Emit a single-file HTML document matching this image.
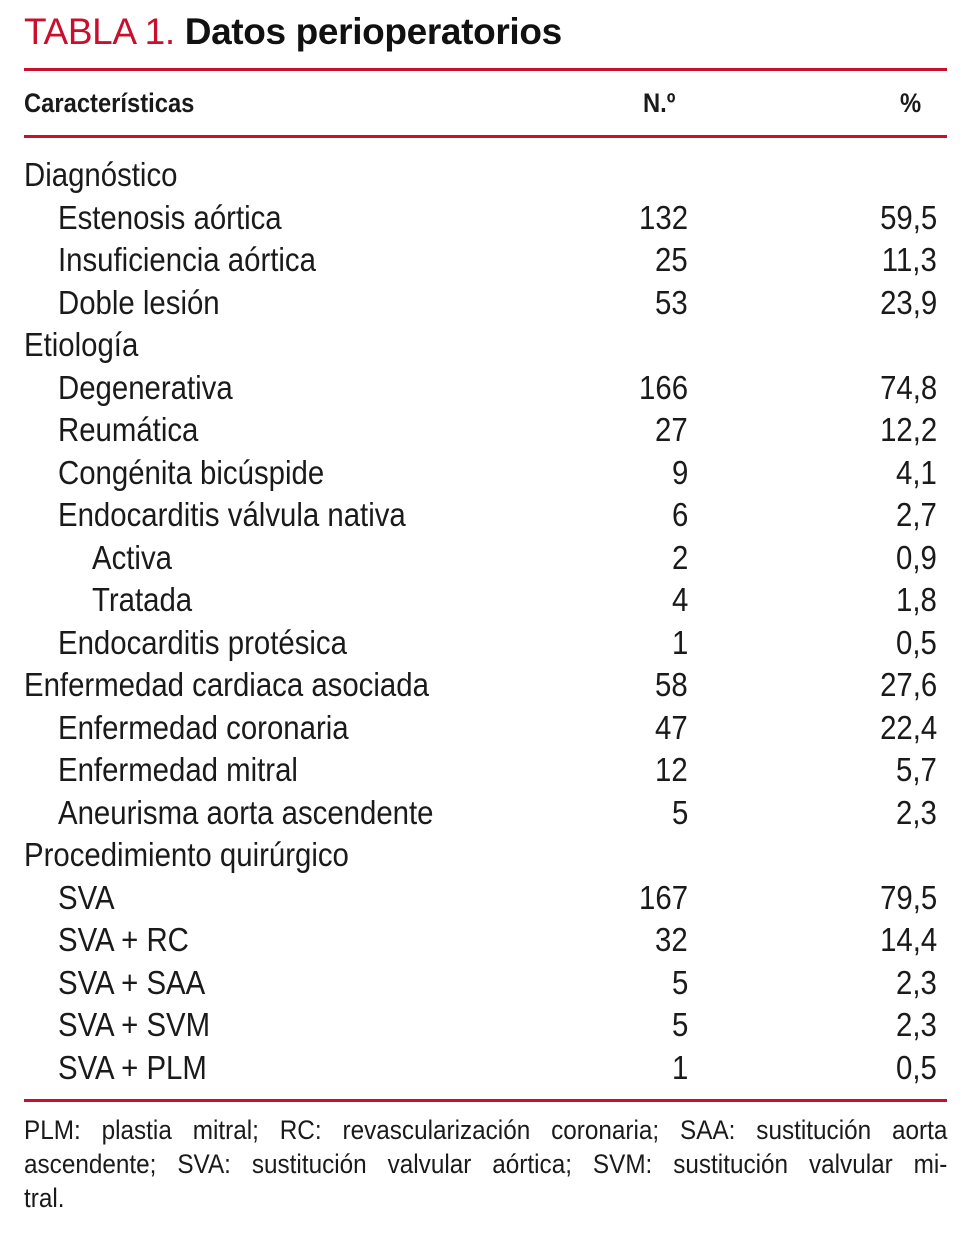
<!DOCTYPE html>
<html><head><meta charset="utf-8">
<style>
html,body{margin:0;padding:0;background:#fff;}
body{width:964px;height:1236px;position:relative;overflow:hidden;font-family:"Liberation Sans Narrow","Liberation Sans",sans-serif;color:#1a1a1a;}
.title{position:absolute;left:24px;top:11px;font-size:37px;font-family:"Liberation Sans",sans-serif;letter-spacing:-0.35px;}
.title .red{color:#c8102e;}
.title b{color:#111;}
.rule{position:absolute;left:24px;width:923px;height:3px;background:#c8102e;}
.hdr{position:absolute;top:88px;font-size:27px;font-weight:bold;transform:scaleX(0.88);transform-origin:left top;}
.row{position:absolute;left:0;width:964px;height:42px;font-size:33px;line-height:42px;}
.row span{position:absolute;top:0;white-space:nowrap;transform:scaleX(0.89);}
.row span.l{transform-origin:left center;}
.row span.n,.row span.p{transform-origin:right center;}
.n{right:276px;}
.p{right:27px;}
.foot{position:absolute;left:24px;top:1113px;width:1026px;font-size:27px;line-height:34px;transform:scaleX(0.9);transform-origin:left top;}
.foot div{white-space:nowrap;text-align:justify;text-align-last:justify;}
.foot div.last{text-align-last:left;}
</style></head><body>
<div class="title"><span class="red">TABLA 1.</span> <b>Datos perioperatorios</b></div>
<div class="rule" style="top:68px"></div>
<div class="hdr" style="left:24px">Características</div>
<div class="hdr" style="left:643px">N.º</div>
<div class="hdr" style="left:900px">%</div>
<div class="rule" style="top:135px"></div>
<div id="rows"></div>
<div class="rule" style="top:1099px"></div>
<div class="foot"><div>PLM: plastia mitral; RC: revascularización coronaria; SAA: sustitución aorta</div><div>ascendente; SVA: sustitución valvular aórtica; SVM: sustitución valvular mi-</div><div class="last">tral.</div></div>
<script>
const labels=["Diagnóstico","Estenosis aórtica","Insuficiencia aórtica","Doble lesión","Etiología","Degenerativa","Reumática","Congénita bicúspide","Endocarditis válvula nativa","Activa","Tratada","Endocarditis protésica","Enfermedad cardiaca asociada","Enfermedad coronaria","Enfermedad mitral","Aneurisma aorta ascendente","Procedimiento quirúrgico","SVA","SVA + RC","SVA + SAA","SVA + SVM","SVA + PLM"];
const levels=[0,1,1,1,0,1,1,1,1,2,2,1,0,1,1,1,0,1,1,1,1,1];
const counts=["","132","25","53","","166","27","9","6","2","4","1","58","47","12","5","","167","32","5","5","1"];
const pcts=["","59,5","11,3","23,9","","74,8","12,2","4,1","2,7","0,9","1,8","0,5","27,6","22,4","5,7","2,3","","79,5","14,4","2,3","2,3","0,5"];
const c=document.getElementById('rows');
labels.forEach((l,i)=>{
 const r=document.createElement('div');
 r.className='row';
 r.style.top=(154+i*42.5)+'px';
 
 
 const a=document.createElement('span');a.className='l';a.textContent=l;a.style.left=(24+levels[i]*34)+'px';
 
 
 const b=document.createElement('span');b.className='n';b.textContent=counts[i];
 
 
 const d=document.createElement('span');d.className='p';d.textContent=pcts[i];
 
 
 r.append(a,b,d);c.appendChild(r);
});
</script>
</body></html>
